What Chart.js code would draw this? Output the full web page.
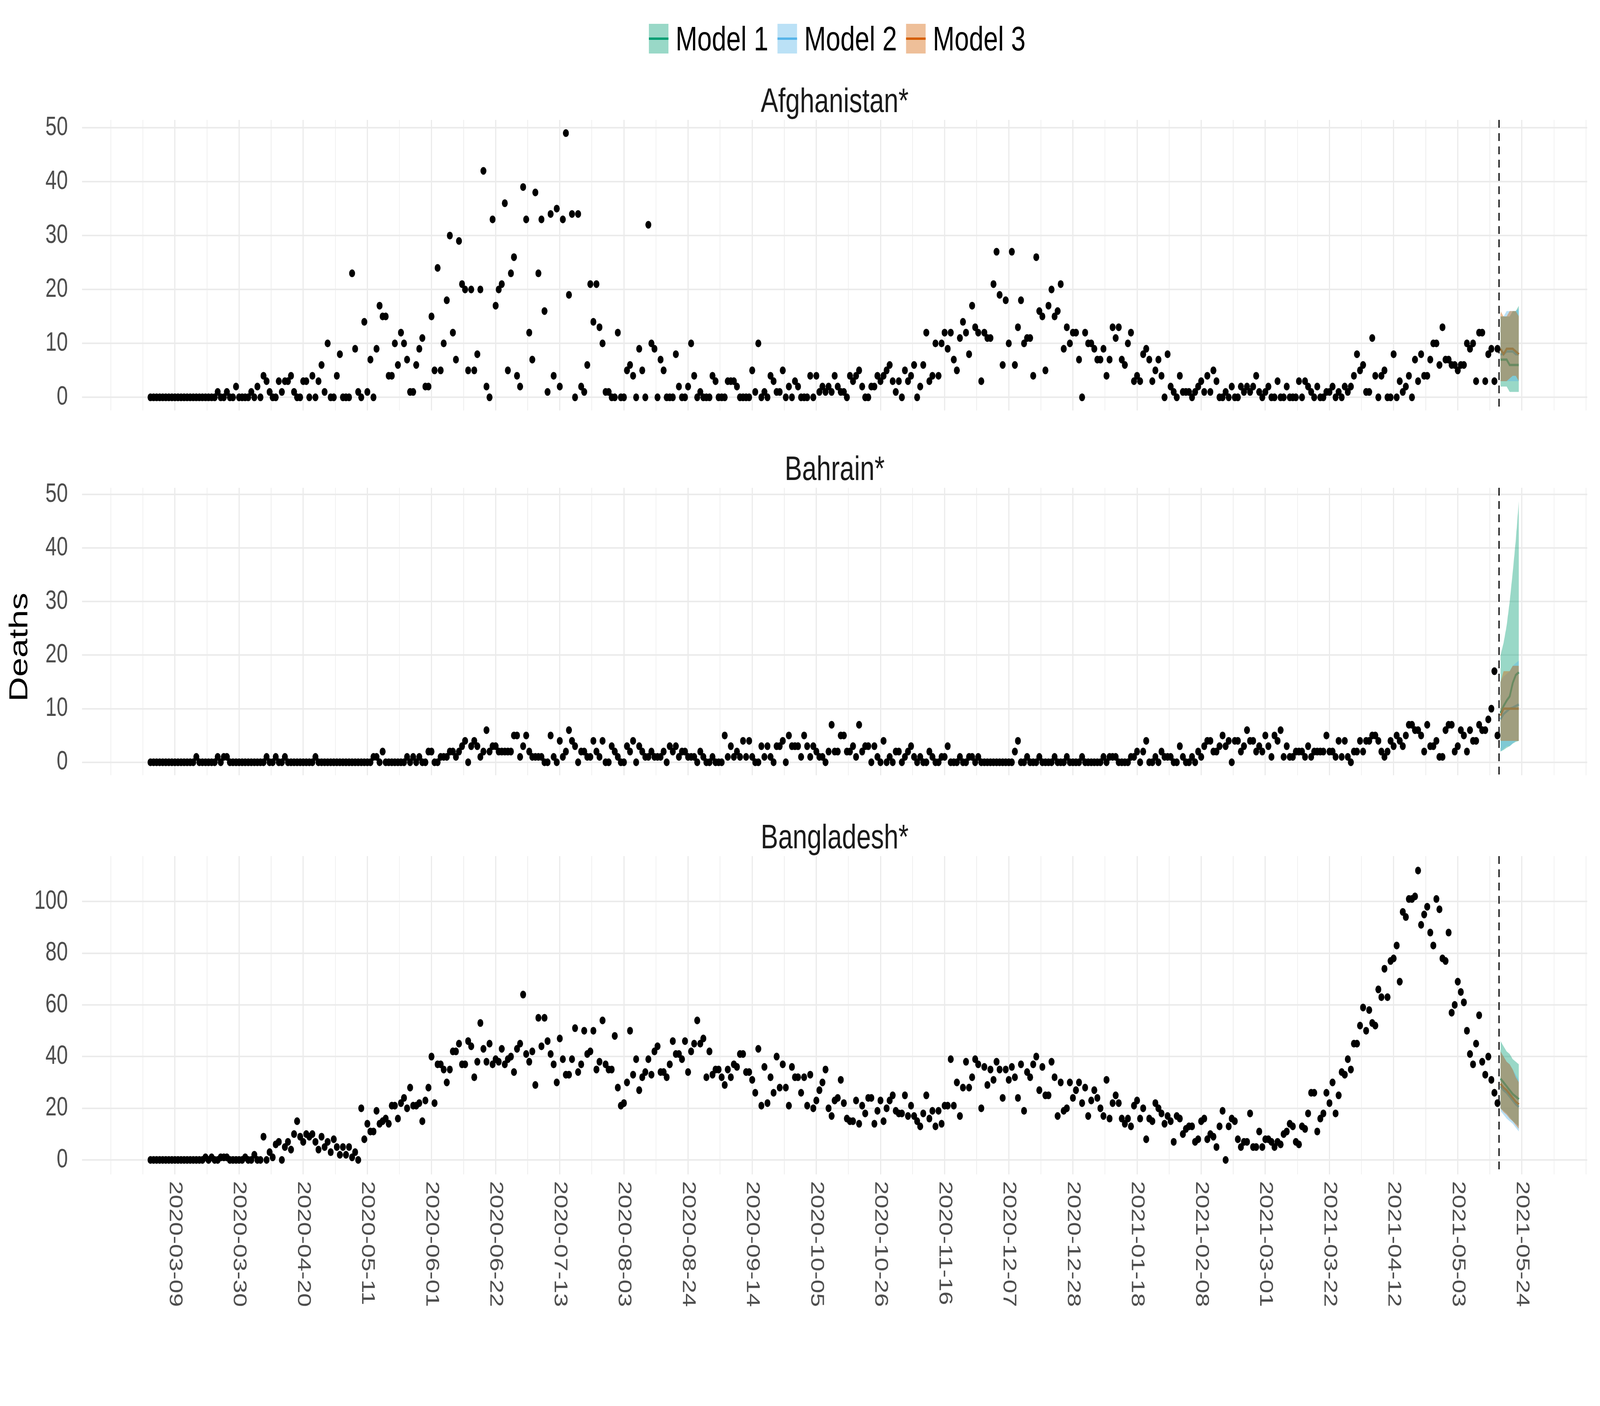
<!DOCTYPE html>
<html>
<head>
<meta charset="utf-8">
<title>Deaths by country</title>
<script src="https://cdn.jsdelivr.net/npm/chart.js@4.4.1/dist/chart.umd.min.js"></script>
<style>
  html, body { margin: 0; padding: 0; background: #fff; overflow: hidden; }
  #outer { position: relative; overflow: hidden; width: 5400px; height: 3600px; }
  #fig { position: absolute; left: 0; top: 0; width: 5400px; height: 3600px; transform-origin: 0 0; font-family: "Liberation Sans", Arial, sans-serif; }
  #fig canvas { position: absolute; left: 0; }
  #legend { position: absolute; left: 2190px; top: 55px; display: flex; align-items: center; font-size: 88px; line-height: 1; color: #000; z-index: 2; }
  #legend .item { display: flex; align-items: center; margin-right: 31px; }
  #legend .key { position: relative; width: 66px; height: 76px; margin-right: 24px; }
  #legend .key i { position: absolute; left: 0; right: 0; top: 35px; height: 6px; }
  #ylab { position: absolute; left: 62px; top: 1657px; transform: translate(-50%, -50%) rotate(-90deg); font-size: 88px; color: #000; white-space: nowrap; }
</style>
</head>
<body>
<div id="outer">
<div id="fig">
  <div id="legend"></div>
  <div id="ylab">Deaths</div>
  <canvas id="c1" width="5400" height="1140" style="top:0px"></canvas>
  <canvas id="c2" width="5400" height="934" style="top:1140px"></canvas>
  <canvas id="c3" width="5400" height="1526" style="top:2074px"></canvas>
</div>
</div>
<script>
// day 0 = 2020-03-09, observations start on 2020-03-01
const firstObsDay = -8;
const cutoffDay = 433.5;

const xTickLabels = ['2020-03-09', '2020-03-30', '2020-04-20', '2020-05-11', '2020-06-01', '2020-06-22',
  '2020-07-13', '2020-08-03', '2020-08-24', '2020-09-14', '2020-10-05', '2020-10-26', '2020-11-16',
  '2020-12-07', '2020-12-28', '2021-01-18', '2021-02-08', '2021-03-01', '2021-03-22', '2021-04-12',
  '2021-05-03', '2021-05-24'];

const modelNames = ['Model 1', 'Model 2', 'Model 3'];
const modelColors = ['#009E73', '#56B4E9', '#D55E00'];

// daily deaths, 2020-03-01 .. 2021-05-16
const afghanistan = [
  0,0,0,0,0,0,0,0,0,0, 0,0,0,0,0,0,0,0,0,0, 0,0,1,0,0,1,0,0,2,0, 0,0,0,1,0,2,0,4,3,1,
  0,0,3,1,3,3,4,1,0,0, 3,3,0,4,0,3,6,1,10,0, 0,4,8,0,0,0,23,9,1,0, 14,1,7,0,9,17,15,15,4,4,
  10,6,12,10,7,1,1,6,9,11, 2,2,15,5,24,5,10,18,30,12, 7,29,21,20,5,20,5,8,20,42,
  2,0,33,17,20,21,36,5,23,26, 4,2,39,33,12,7,38,23,33,16, 1,34,4,35,2,33,49,19,34,0,
  34,2,1,6,21,14,21,13,10,1, 1,0,0,12,0,0,5,6,4,0, 9,5,0,32,10,9,0,7,5,0,
  0,0,8,2,0,0,2,10,4,0, 1,0,0,0,4,3,0,0,0,3, 3,3,2,0,0,0,0,5,1,10,
  0,1,0,4,3,1,1,5,0,2, 0,3,2,0,0,0,4,0,4,1, 2,1,2,1,4,2,1,1,0,4,
  3,4,5,2,0,0,2,2,4,3, 4,5,6,3,1,3,0,5,3,4, 6,0,2,6,12,3,4,10,4,10,
  12,9,12,7,5,11,14,12,8,17, 13,12,3,12,11,11,21,27,19,6, 18,10,27,6,13,18,10,11,11,4,
  26,16,15,5,17,20,15,16,21,9, 13,10,12,12,7,0,12,10,10,9, 7,7,9,4,7,13,11,13,7,6,
  10,12,3,4,3,8,9,7,3,5, 7,4,0,8,2,1,0,4,1,1, 1,0,1,2,3,1,4,1,5,3,
  0,0,1,0,2,0,0,2,1,2, 1,2,4,1,0,1,2,0,0,3, 0,0,2,0,0,0,3,0,3,2,
  1,0,2,0,0,1,1,2,0,1, 0,2,1,2,4,8,5,6,1,1, 11,4,0,4,5,0,0,8,0,3,
  1,2,4,0,7,3,8,4,4,7, 10,10,6,13,7,7,6,6,5,6, 6,10,9,10,3,12,12,3,8,9,
  3,9
];

const bahrain = [
  0,0,0,0,0,0,0,0,0,0, 0,0,0,0,0,1,0,0,0,0, 0,0,1,0,1,1,0,0,0,0, 0,0,0,0,0,0,0,0,1,0,
  0,1,0,0,1,0,0,0,0,0, 0,0,0,0,1,0,0,0,0,0, 0,0,0,0,0,0,0,0,0,0, 0,0,0,1,1,0,2,0,0,0,
  0,0,0,0,1,0,1,0,1,0, 0,2,2,0,0,1,1,1,2,2, 1,2,3,4,0,3,4,3,1,2,
  6,2,3,3,2,2,2,2,2,5, 5,1,3,5,2,1,1,1,1,0, 0,5,1,0,4,1,2,6,4,3,
  0,2,2,1,1,4,2,1,4,0, 0,3,2,1,0,0,3,2,4,0, 3,2,1,1,2,1,1,1,2,0,
  3,2,3,1,2,2,1,1,1,0, 2,1,0,0,1,0,0,0,5,1, 3,1,2,1,4,1,4,1,0,0,
  3,1,3,1,0,3,3,4,0,5, 3,3,3,1,5,3,1,3,2,1, 1,0,2,7,2,2,5,5,2,2,
  3,1,7,2,3,3,0,3,1,0, 4,0,1,0,2,2,0,1,2,3, 1,0,1,0,0,2,1,0,0,1,
  1,3,0,0,0,1,0,0,1,1, 0,1,0,0,0,0,0,0,0,0, 0,0,0,2,4,0,0,1,0,0,
  0,1,0,0,0,0,1,0,0,0, 1,0,0,0,0,1,0,0,0,0, 0,0,1,0,1,1,1,0,0,0,
  0,1,1,2,0,2,4,0,0,1, 0,2,1,1,1,0,0,3,1,0, 0,1,0,2,1,3,4,4,2,2,
  3,5,3,4,0,4,4,2,3,6, 4,4,2,3,2,5,3,1,5,4, 6,1,3,1,1,2,2,2,1,3,
  1,2,2,2,2,5,2,2,1,4, 1,4,1,0,2,2,4,2,4,4, 5,5,4,2,1,2,4,3,5,4,
  3,5,7,7,6,6,5,2,7,3, 3,4,1,1,6,7,7,2,3,6, 5,2,6,4,4,7,6,6,8,10,
  17,5
];

const bangladesh = [
  0,0,0,0,0,0,0,0,0,0, 0,0,0,0,0,0,0,0,1,0, 1,0,0,1,1,1,0,0,0,0, 0,1,0,0,2,0,0,9,0,3,
  1,6,7,0,5,7,4,10,15,9, 7,10,9,10,7,4,9,5,7,3, 8,5,2,5,2,5,1,3,0,20, 8,14,11,11,19,14,15,16,14,21,
  21,16,22,24,20,28,21,21,22,15, 23,28,40,22,37,37,35,30,35,42, 42,45,37,37,46,44,32,38,53,43,
  38,45,37,39,38,43,37,39,40,34, 43,45,64,41,38,42,29,55,44,55, 46,41,37,30,47,39,33,33,39,51,
  34,37,50,41,42,50,35,38,54,37, 35,35,48,28,21,22,30,50,33,39, 27,32,34,39,33,42,44,34,34,32,
  37,46,41,41,39,46,34,42,45,54, 45,47,32,42,33,35,35,32,29,35, 32,37,36,41,41,34,34,31,26,43,
  21,36,22,32,26,40,28,37,28,21, 36,32,32,26,32,21,33,20,23,27, 30,35,20,17,23,24,31,22,16,15,
  15,23,14,21,18,24,24,14,19,23, 15,20,23,25,19,18,18,25,17,21, 17,15,13,18,25,16,19,13,19,14,
  21,21,39,21,30,17,28,38,28,32, 39,37,20,36,29,35,31,38,35,24, 35,31,36,32,24,37,19,34,32,37,
  40,27,36,25,25,38,32,17,30,19, 20,30,24,27,30,22,28,17,23,27, 24,20,17,31,16,22,25,22,16,14,
  16,13,21,23,16,20,8,16,15,22, 20,18,14,17,15,7,17,16,10,12, 13,13,7,8,15,16,8,10,9,5,
  13,19,0,13,16,15,8,5,7,7, 18,5,5,11,5,8,8,7,5,7, 6,10,11,14,13,7,6,13,12,18,
  26,26,11,16,18,26,22,30,18,25, 34,33,39,35,45,45,52,59,50,58, 53,52,66,63,74,63,77,78,83,69,
  96,94,101,101,102,112,91,95,98,88, 83,101,97,78,77,88,57,60,69,65, 61,50,41,37,45,56,38,33,40,31,
  26,22
];

// forecasts, 2021-05-17 .. 2021-05-23
const forecastDays = [434, 435, 436, 437, 438, 439, 440];

const afgMid1 = [7, 7, 7, 6, 6, 6, 6];
const afgLo1 = [2, 2, 2, 1, 1, 1, 1];
const afgHi1 = [15, 15, 15, 15, 16, 16, 17];
const afgMid2 = [8, 8, 8.5, 8.5, 8.5, 8, 8];
const afgLo2 = [3, 3, 3, 3, 3, 3, 3];
const afgHi2 = [15, 15, 16, 16, 16, 16, 16.5];
const afgMid3 = [9, 8, 9, 9, 9, 8.5, 8];
const afgLo3 = [3, 3, 3, 3.5, 4, 4, 3];
const afgHi3 = [16, 15, 15, 16, 16, 16, 15];

const bhrMid1 = [9.2, 10.5, 11.5, 12.3, 14.8, 16.3, 16.8];
const bhrLo1 = [2, 2.3, 2.7, 3, 3.5, 3.8, 4];
const bhrHi1 = [20, 22.3, 25.5, 30, 35.5, 41.5, 48.8];
const bhrMid2 = [8, 9, 9.5, 10, 10.2, 10.5, 10.8];
const bhrLo2 = [2, 2.5, 3, 3, 3.5, 4, 4];
const bhrHi2 = [15, 16, 16.5, 17, 18, 18.5, 19];
const bhrMid3 = [8.7, 10, 10, 10, 10, 10, 10];
const bhrLo3 = [4, 4, 4, 4, 4, 4, 4];
const bhrHi3 = [15, 17, 17, 17, 18, 18, 18];

const bgdMid1 = [31.5, 30, 28.5, 27, 25.5, 24.5, 23.5];
const bgdLo1 = [20, 19, 18, 16.5, 15, 14, 13];
const bgdHi1 = [46, 44, 42, 41, 39, 38, 37];
const bgdMid2 = [28.5, 27, 26, 24.5, 23, 21.5, 20.5];
const bgdLo2 = [19, 17.5, 16, 15, 14, 12.5, 11];
const bgdHi2 = [42, 40, 38, 37, 35, 33, 31];
const bgdMid3 = [29.5, 28, 27, 25.5, 24, 22.5, 21.5];
const bgdLo3 = [20, 18.5, 17.5, 16, 15, 13.5, 12];
const bgdHi3 = [42, 40, 38, 37, 35, 32, 30];

const afgYTicks = [0, 10, 20, 30, 40, 50];
const bhrYTicks = [0, 10, 20, 30, 40, 50];
const bgdYTicks = [0, 20, 40, 60, 80, 100];

// ---- helpers ----
const DAY_MS = 86400000;
const day0 = Date.parse('2020-03-09T00:00:00Z');
const dayOf = s => Math.round((Date.parse(s + 'T00:00:00Z') - day0) / DAY_MS);

function rgba(hex, a) {
  const n = parseInt(hex.slice(1), 16);
  return `rgba(${(n >> 16) & 255}, ${(n >> 8) & 255}, ${n & 255}, ${a})`;
}

// the figure is laid out on a 5400x3600 grid and stretched onto the real viewport
// (the window can come out narrower than asked, e.g. 4096 wide)
const FIG_W = 5400, FIG_H = 3600;
const fitX = Math.min(1, (window.innerWidth || FIG_W) / FIG_W);
const fitY = Math.min(1, (window.innerHeight || FIG_H) / FIG_H);
const outer = document.getElementById('outer');
outer.style.width = (FIG_W * fitX) + 'px';
outer.style.height = (FIG_H * fitY) + 'px';
document.getElementById('fig').style.transform = `scale(${fitX}, ${fitY})`;

const FONT = '"Liberation Sans", Arial, sans-serif';
const GRID = '#ebebeb';
const RIBBON_ALPHA = 0.4;
const X_TICK_SIZE = 63;
const Y_TICK_SIZE = 68;

// x range: data span + 5% each side, as ggplot does
const xDataMin = firstObsDay;
const xDataMax = forecastDays[forecastDays.length - 1];
const xPad = (xDataMax - xDataMin) * 0.05;
const xMin = xDataMin - xPad;
const xMax = xDataMax + xPad;
const majorDays = xTickLabels.map(dayOf);
const xStep = majorDays[1] - majorDays[0];

// legend
const legendEl = document.getElementById('legend');
modelNames.forEach((name, i) => {
  const item = document.createElement('div');
  item.className = 'item';
  item.innerHTML = `<span class="key" style="background:${rgba(modelColors[i], RIBBON_ALPHA)}"><i style="background:${modelColors[i]}"></i></span><span>${name}</span>`;
  legendEl.appendChild(item);
});

// strip title above each panel
const stripPlugin = {
  id: 'strip',
  afterDraw(chart, args, opts) {
    const { ctx, chartArea } = chart;
    ctx.save();
    ctx.font = `88px ${FONT}`;
    ctx.fillStyle = '#1a1a1a';
    ctx.textAlign = 'center';
    ctx.textBaseline = 'middle';
    ctx.fillText(opts.text, (chartArea.left + chartArea.right) / 2, chartArea.top - 44);
    ctx.restore();
  }
};

// dashed vertical line at the forecast start
const cutoffPlugin = {
  id: 'cutoff',
  afterDatasetsDraw(chart) {
    const { ctx, chartArea, scales } = chart;
    const px = scales.x.getPixelForValue(cutoffDay);
    ctx.save();
    ctx.strokeStyle = '#000';
    ctx.lineWidth = 4;
    ctx.setLineDash([20, 14]);
    ctx.beginPath();
    ctx.moveTo(px, chartArea.top);
    ctx.lineTo(px, chartArea.bottom);
    ctx.stroke();
    ctx.restore();
  }
};

// date labels reading top to bottom under the last panel
const dateLabelPlugin = {
  id: 'dateLabels',
  afterDraw(chart, args, opts) {
    if (!opts.show) return;
    const { ctx, chartArea, scales } = chart;
    ctx.save();
    ctx.font = `${X_TICK_SIZE}px ${FONT}`;
    ctx.fillStyle = '#4d4d4d';
    ctx.textAlign = 'left';
    ctx.textBaseline = 'middle';
    xTickLabels.forEach(lbl => {
      ctx.save();
      ctx.translate(scales.x.getPixelForValue(dayOf(lbl)), chartArea.bottom + 17);
      ctx.rotate(Math.PI / 2);
      ctx.fillText(lbl, 0, 0);
      ctx.restore();
    });
    ctx.restore();
  }
};

function makePanel(cfg) {
  const allHi = cfg.hi.flat();
  const yDataMax = Math.max(...cfg.obs, ...allHi);
  const yPad = yDataMax * 0.05;
  const yMin = -yPad, yMax = yDataMax + yPad;
  const yHalf = (cfg.yTicks[1] - cfg.yTicks[0]) / 2;

  const datasets = [];
  datasets.push({
    type: 'scatter',
    data: cfg.obs.map((v, i) => ({ x: firstObsDay + i, y: v })),
    pointRadius: 10,
    pointBackgroundColor: '#000',
    pointBorderWidth: 0,
    order: 1
  });
  // median lines underneath the ribbons
  modelColors.forEach((col, m) => {
    datasets.push({
      type: 'line',
      data: forecastDays.map((d, i) => ({ x: d, y: cfg.mid[m][i] })),
      borderColor: col,
      borderWidth: 6,
      pointRadius: 0,
      fill: false,
      order: 9 - m
    });
  });
  // ribbons: lower bound (invisible) followed by upper bound filled to it
  modelColors.forEach((col, m) => {
    datasets.push({
      type: 'line',
      data: forecastDays.map((d, i) => ({ x: d, y: cfg.lo[m][i] })),
      borderWidth: 0,
      borderColor: 'rgba(0,0,0,0)',
      pointRadius: 0,
      fill: false,
      order: 6
    });
    datasets.push({
      type: 'line',
      data: forecastDays.map((d, i) => ({ x: d, y: cfg.hi[m][i] })),
      borderWidth: 0,
      borderColor: 'rgba(0,0,0,0)',
      backgroundColor: rgba(col, RIBBON_ALPHA),
      pointRadius: 0,
      fill: '-1',
      order: 5 - m
    });
  });

  return new Chart(document.getElementById(cfg.id), {
    type: 'scatter',
    data: { datasets },
    options: {
      responsive: false,
      animation: false,
      devicePixelRatio: 1,
      layout: { padding: { left: 0, right: 43, top: cfg.padTop, bottom: cfg.padBottom } },
      plugins: {
        legend: { display: false },
        tooltip: { enabled: false },
        strip: { text: cfg.title },
        dateLabels: { show: cfg.dateLabels }
      },
      scales: {
        x: {
          type: 'linear',
          min: xMin,
          max: xMax,
          afterBuildTicks: s => {
            const t = [];
            for (let v = majorDays[0] - xStep; v <= majorDays[majorDays.length - 1] + xStep; v += xStep / 2) {
              if (v >= xMin && v <= xMax) t.push({ value: v });
            }
            s.ticks = t;
          },
          afterFit: s => { s.height = 0; },
          ticks: { display: false },
          border: { display: false },
          grid: {
            drawTicks: false,
            color: GRID,
            lineWidth: c => (majorDays.includes(c.tick.value) ? 4 : 2)
          }
        },
        y: {
          type: 'linear',
          min: yMin,
          max: yMax,
          afterBuildTicks: s => {
            const t = [];
            for (let v = 0; v <= yMax; v += yHalf) t.push({ value: v });
            s.ticks = t;
          },
          afterFit: s => { s.width = 277; },
          border: { display: false },
          ticks: {
            padding: 48,
            color: '#4d4d4d',
            font: { family: FONT, size: Y_TICK_SIZE },
            callback: v => (cfg.yTicks.includes(v) ? String(v) : '')
          },
          grid: {
            drawTicks: false,
            color: GRID,
            lineWidth: c => (cfg.yTicks.includes(c.tick.value) ? 4 : 2)
          }
        }
      }
    },
    plugins: [stripPlugin, cutoffPlugin, dateLabelPlugin]
  });
}

makePanel({
  id: 'c1', title: 'Afghanistan*', obs: afghanistan,
  mid: [afgMid1, afgMid2, afgMid3], lo: [afgLo1, afgLo2, afgLo3], hi: [afgHi1, afgHi2, afgHi3],
  yTicks: afgYTicks, padTop: 307, padBottom: 10, dateLabels: false
});
makePanel({
  id: 'c2', title: 'Bahrain*', obs: bahrain,
  mid: [bhrMid1, bhrMid2, bhrMid3], lo: [bhrLo1, bhrLo2, bhrLo3], hi: [bhrHi1, bhrHi2, bhrHi3],
  yTicks: bhrYTicks, padTop: 109, padBottom: 10, dateLabels: false
});
makePanel({
  id: 'c3', title: 'Bangladesh*', obs: bangladesh,
  mid: [bgdMid1, bgdMid2, bgdMid3], lo: [bgdLo1, bgdLo2, bgdLo3], hi: [bgdHi1, bgdHi2, bgdHi3],
  yTicks: bgdYTicks, padTop: 118, padBottom: 593, dateLabels: true
});
</script>
</body>
</html>
